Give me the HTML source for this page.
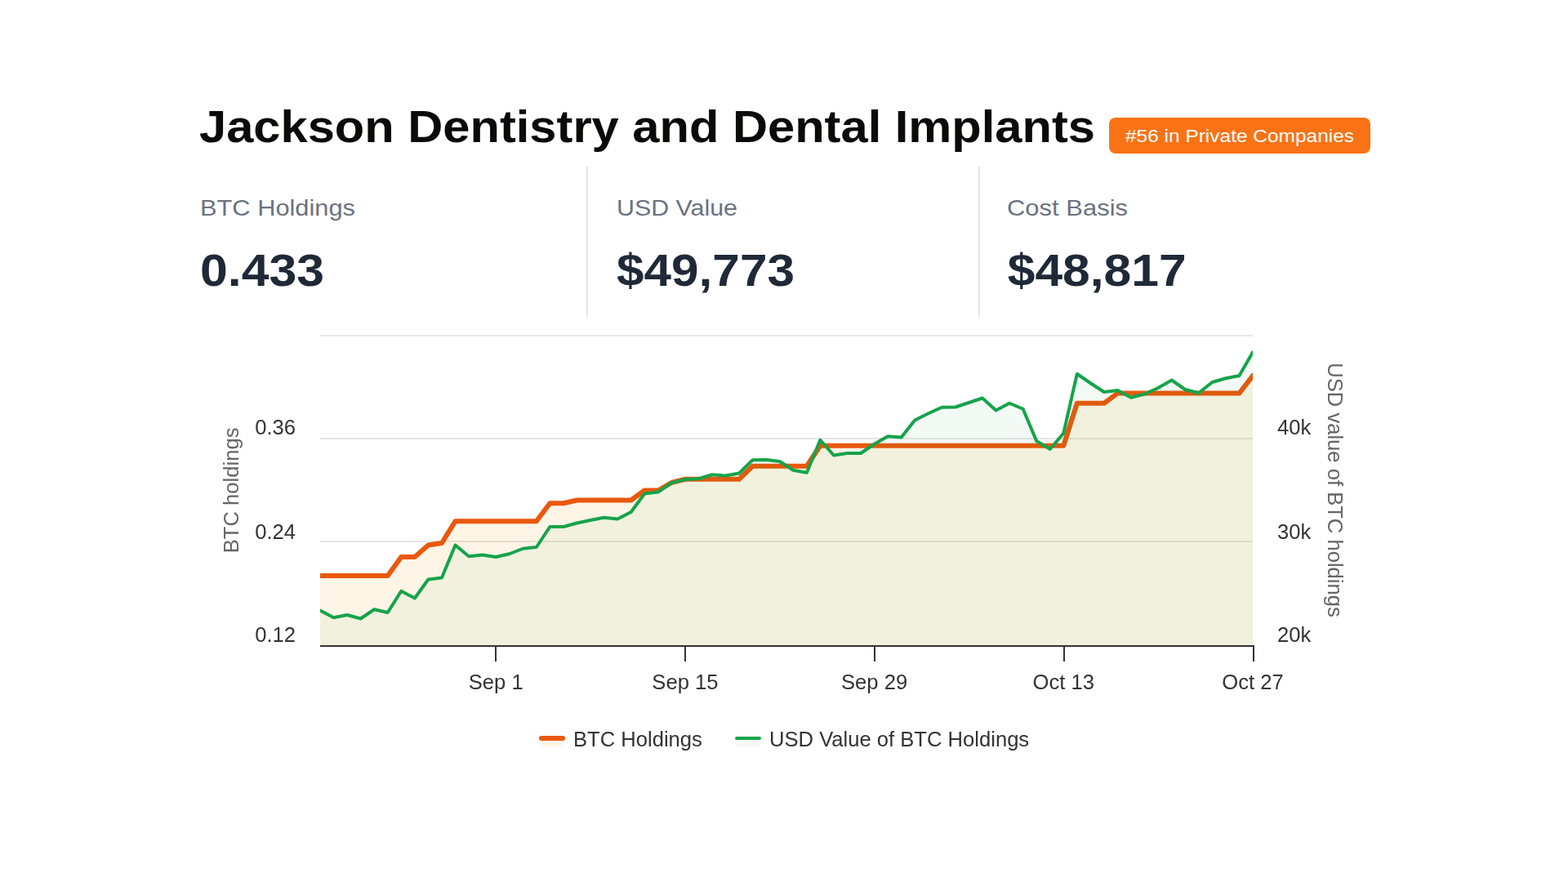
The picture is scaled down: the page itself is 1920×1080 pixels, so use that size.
<!DOCTYPE html>
<html lang="en"><head><meta charset="utf-8"><title>Jackson Dentistry and Dental Implants</title>
<style>
html,body{margin:0;padding:0;background:#fff;width:1920px;height:1080px;overflow:hidden;font-family:"Liberation Sans",sans-serif}
.page{position:relative;width:1920px;height:1080px}
.badge{position:absolute;left:1358px;top:144px;width:320px;height:44px;border-radius:8px;background:#f97316}
.div{position:absolute;top:204px;width:2px;height:184px;background:#e7e5e4}
.hdr,.chart{position:absolute;left:0;top:0;display:block}
.chart{will-change:transform}
.tx{position:absolute;margin:0;white-space:nowrap;color:transparent;font-family:"Liberation Sans",sans-serif;line-height:1;font-weight:bold;overflow:hidden}
</style></head><body>
<div class="page">
<div class="badge"></div>
<div class="div" style="left:718px"></div><div class="div" style="left:1198px"></div>
<h1 class="tx" style="left:243px;top:122px;font-size:56px;width:1100px">Jackson Dentistry and Dental Implants</h1>
<span class="tx" style="left:1378px;top:155px;font-size:22px;width:282px;font-weight:normal">#56 in Private Companies</span>
<span class="tx" style="left:243px;top:238px;font-size:28px;width:200px;font-weight:normal">BTC Holdings</span>
<span class="tx" style="left:243px;top:300px;font-size:56px;width:200px">0.433</span>
<span class="tx" style="left:753px;top:238px;font-size:28px;width:200px;font-weight:normal">USD Value</span>
<span class="tx" style="left:753px;top:300px;font-size:56px;width:260px">$49,773</span>
<span class="tx" style="left:1231px;top:238px;font-size:28px;width:200px;font-weight:normal">Cost Basis</span>
<span class="tx" style="left:1231px;top:300px;font-size:56px;width:260px">$48,817</span>
<svg class="hdr" width="1920" height="400" viewBox="0 0 1920 400" aria-hidden="true" font-family="Liberation Sans, sans-serif"><text x="244" y="173.7" font-size="56" font-weight="bold" fill="#0c0a09" textLength="1097" lengthAdjust="spacingAndGlyphs">Jackson Dentistry and Dental Implants</text><text x="1378" y="174" font-size="22" fill="#ffffff" textLength="280" lengthAdjust="spacingAndGlyphs">#56 in Private Companies</text><text x="245" y="264" font-size="28" fill="#6b7280" textLength="190" lengthAdjust="spacingAndGlyphs">BTC Holdings</text><text x="755" y="264" font-size="28" fill="#6b7280" textLength="148" lengthAdjust="spacingAndGlyphs">USD Value</text><text x="1233" y="264" font-size="28" fill="#6b7280" textLength="148" lengthAdjust="spacingAndGlyphs">Cost Basis</text><text x="245" y="349.9" font-size="56" font-weight="bold" fill="#1f2937" textLength="152" lengthAdjust="spacingAndGlyphs">0.433</text><text x="755" y="350.1" font-size="56" font-weight="bold" fill="#1f2937" textLength="218" lengthAdjust="spacingAndGlyphs">$49,773</text><text x="1233.7" y="350.1" font-size="56" font-weight="bold" fill="#1f2937" textLength="219" lengthAdjust="spacingAndGlyphs">$48,817</text></svg>
<svg class="chart" width="1920" height="1080" viewBox="0 0 1920 1080" font-family="Liberation Sans, sans-serif" font-size="25.6"><defs><clipPath id="plot"><rect x="392" y="400" width="1142" height="390"/></clipPath></defs><g stroke="#e6e6e6" stroke-width="2"><line x1="392" x2="1534" y1="411" y2="411"/><line x1="392" x2="1534" y1="537" y2="537"/><line x1="392" x2="1534" y1="663" y2="663"/></g><g clip-path="url(#plot)" fill="none" stroke-linejoin="round" stroke-linecap="round"><path d="M392 704.9 L408.55 704.9 L425.1 704.9 L441.65 704.9 L458.2 704.9 L474.75 704.9 L491.3 682 L507.86 682 L524.41 667.5 L540.96 665 L557.51 638.25 L574.06 638.25 L590.61 638.25 L607.16 638.25 L623.71 638.25 L640.26 638.25 L656.81 638.25 L673.36 616.25 L689.91 616.25 L706.46 612.5 L723.01 612.5 L739.57 612.5 L756.12 612.5 L772.67 612.5 L789.22 600.5 L805.77 600.5 L822.32 591 L838.87 586.75 L855.42 586.75 L871.97 586.75 L888.52 586.75 L905.07 586.75 L921.62 570.75 L938.17 570.75 L954.72 570.75 L971.28 570.75 L987.83 570.75 L1004.38 545.75 L1020.93 545.75 L1037.48 545.75 L1054.03 545.75 L1070.58 545.75 L1087.13 545.75 L1103.68 545.75 L1120.23 545.75 L1136.78 545.75 L1153.33 545.75 L1169.88 545.75 L1186.43 545.75 L1202.99 545.75 L1219.54 545.75 L1236.09 545.75 L1252.64 545.75 L1269.19 545.75 L1285.74 545.75 L1302.29 545.75 L1318.84 493.75 L1335.39 493.75 L1351.94 493.75 L1368.49 481.6 L1385.04 481.6 L1401.59 481.6 L1418.14 481.6 L1434.7 481.6 L1451.25 481.6 L1467.8 481.6 L1484.35 481.6 L1500.9 481.6 L1517.45 481.6 L1534 460 L1534 790 L392 790 Z" fill="#f59e0b" fill-opacity="0.1"/><path d="M392 704.9 L408.55 704.9 L425.1 704.9 L441.65 704.9 L458.2 704.9 L474.75 704.9 L491.3 682 L507.86 682 L524.41 667.5 L540.96 665 L557.51 638.25 L574.06 638.25 L590.61 638.25 L607.16 638.25 L623.71 638.25 L640.26 638.25 L656.81 638.25 L673.36 616.25 L689.91 616.25 L706.46 612.5 L723.01 612.5 L739.57 612.5 L756.12 612.5 L772.67 612.5 L789.22 600.5 L805.77 600.5 L822.32 591 L838.87 586.75 L855.42 586.75 L871.97 586.75 L888.52 586.75 L905.07 586.75 L921.62 570.75 L938.17 570.75 L954.72 570.75 L971.28 570.75 L987.83 570.75 L1004.38 545.75 L1020.93 545.75 L1037.48 545.75 L1054.03 545.75 L1070.58 545.75 L1087.13 545.75 L1103.68 545.75 L1120.23 545.75 L1136.78 545.75 L1153.33 545.75 L1169.88 545.75 L1186.43 545.75 L1202.99 545.75 L1219.54 545.75 L1236.09 545.75 L1252.64 545.75 L1269.19 545.75 L1285.74 545.75 L1302.29 545.75 L1318.84 493.75 L1335.39 493.75 L1351.94 493.75 L1368.49 481.6 L1385.04 481.6 L1401.59 481.6 L1418.14 481.6 L1434.7 481.6 L1451.25 481.6 L1467.8 481.6 L1484.35 481.6 L1500.9 481.6 L1517.45 481.6 L1534 460" stroke="#ea580c" stroke-width="6"/><path d="M392 747.5 L408.55 756.25 L425.1 753 L441.65 757.5 L458.2 746.25 L474.75 750 L491.3 723.75 L507.86 732.5 L524.41 709.5 L540.96 707.5 L557.51 667.5 L574.06 681.25 L590.61 679.5 L607.16 682 L623.71 678.25 L640.26 671.75 L656.81 670 L673.36 645 L689.91 645 L706.46 640.5 L723.01 637 L739.57 633.75 L756.12 635.5 L772.67 627 L789.22 604.5 L805.77 602.5 L822.32 591.25 L838.87 587 L855.42 586.25 L871.97 581.25 L888.52 582.5 L905.07 579.5 L921.62 563.25 L938.17 563 L954.72 565 L971.28 575.75 L987.83 578.75 L1004.38 538.75 L1020.93 557.5 L1037.48 555 L1054.03 555 L1070.58 543.75 L1087.13 534.25 L1103.68 535.5 L1120.23 514.5 L1136.78 506.25 L1153.33 498.75 L1169.88 498.5 L1186.43 493 L1202.99 487.5 L1219.54 502.5 L1236.09 493.75 L1252.64 500.75 L1269.19 540 L1285.74 550 L1302.29 530.5 L1318.84 457.75 L1335.39 469.25 L1351.94 480 L1368.49 478 L1385.04 486.75 L1401.59 482.5 L1418.14 475 L1434.7 465.5 L1451.25 477 L1467.8 481.25 L1484.35 468 L1500.9 463.25 L1517.45 460 L1534 431.25 L1534 790 L392 790 Z" fill="#16a34a" fill-opacity="0.05"/><path d="M392 747.5 L408.55 756.25 L425.1 753 L441.65 757.5 L458.2 746.25 L474.75 750 L491.3 723.75 L507.86 732.5 L524.41 709.5 L540.96 707.5 L557.51 667.5 L574.06 681.25 L590.61 679.5 L607.16 682 L623.71 678.25 L640.26 671.75 L656.81 670 L673.36 645 L689.91 645 L706.46 640.5 L723.01 637 L739.57 633.75 L756.12 635.5 L772.67 627 L789.22 604.5 L805.77 602.5 L822.32 591.25 L838.87 587 L855.42 586.25 L871.97 581.25 L888.52 582.5 L905.07 579.5 L921.62 563.25 L938.17 563 L954.72 565 L971.28 575.75 L987.83 578.75 L1004.38 538.75 L1020.93 557.5 L1037.48 555 L1054.03 555 L1070.58 543.75 L1087.13 534.25 L1103.68 535.5 L1120.23 514.5 L1136.78 506.25 L1153.33 498.75 L1169.88 498.5 L1186.43 493 L1202.99 487.5 L1219.54 502.5 L1236.09 493.75 L1252.64 500.75 L1269.19 540 L1285.74 550 L1302.29 530.5 L1318.84 457.75 L1335.39 469.25 L1351.94 480 L1368.49 478 L1385.04 486.75 L1401.59 482.5 L1418.14 475 L1434.7 465.5 L1451.25 477 L1467.8 481.25 L1484.35 468 L1500.9 463.25 L1517.45 460 L1534 431.25" stroke="#16a34a" stroke-width="4"/></g><g stroke="#333333" stroke-width="2"><line x1="392" x2="1534" y1="791" y2="791"/><line x1="607" x2="607" y1="790" y2="810"/><line x1="839" x2="839" y1="790" y2="810"/><line x1="1071" x2="1071" y1="790" y2="810"/><line x1="1303" x2="1303" y1="790" y2="810"/><line x1="1535" x2="1535" y1="790" y2="810"/></g><g fill="#333333" text-anchor="middle"><text x="607.2" y="844">Sep 1</text><text x="838.9" y="844">Sep 15</text><text x="1070.6" y="844">Sep 29</text><text x="1302.3" y="844">Oct 13</text><text x="1534" y="844">Oct 27</text></g><g fill="#333333" text-anchor="end"><text x="362" y="532">0.36</text><text x="362" y="660">0.24</text><text x="362" y="786">0.12</text></g><g fill="#333333"><text x="1564" y="532">40k</text><text x="1564" y="660">30k</text><text x="1564" y="786">20k</text></g><text fill="#666666" text-anchor="middle" transform="translate(292 600.4) rotate(-90)">BTC holdings</text><text fill="#666666" text-anchor="middle" transform="translate(1625.5 600) rotate(90)">USD value of BTC holdings</text><g><rect x="663" y="904" width="26" height="10" fill="#f59e0b" fill-opacity="0.1"/><line x1="663" x2="689" y1="904" y2="904" stroke="#ea580c" stroke-width="6" stroke-linecap="round"/><text x="702" y="914" fill="#333333">BTC Holdings</text><rect x="902" y="904" width="28" height="10" fill="#16a34a" fill-opacity="0.05"/><line x1="902" x2="930" y1="904" y2="904" stroke="#16a34a" stroke-width="4" stroke-linecap="round"/><text x="942" y="914" fill="#333333">USD Value of BTC Holdings</text></g></svg>
</div>
</body></html>
